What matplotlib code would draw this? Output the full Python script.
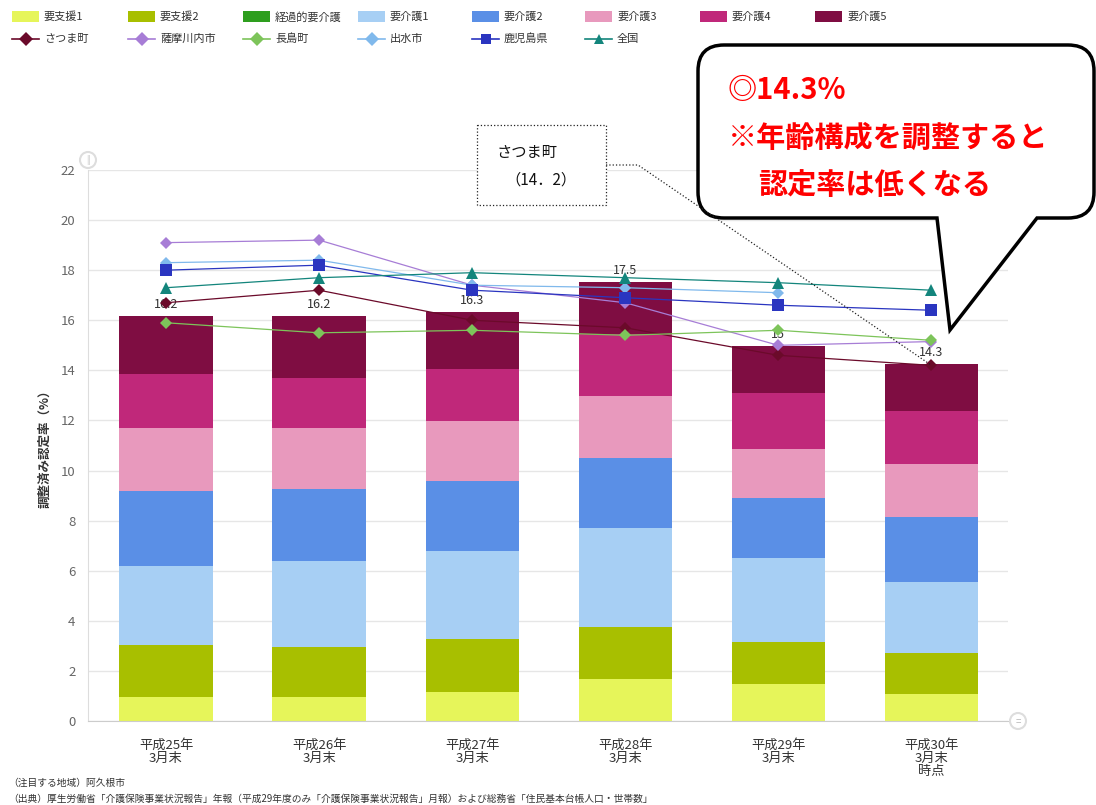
import numpy as np
import matplotlib
matplotlib.use('Agg')
import matplotlib.pyplot as plt
from matplotlib.path import Path
from matplotlib.patches import PathPatch, Rectangle, Circle
from matplotlib.lines import Line2D
from matplotlib.transforms import Affine2D

plt.rcParams['font.family'] = ['Noto Sans CJK JP', 'DejaVu Sans']

W, H = 1096, 805

years = ['平成25年\n3月末', '平成26年\n3月末', '平成27年\n3月末',
         '平成28年\n3月末', '平成29年\n3月末', '平成30年\n3月末\n時点']

# 認定率の内訳 (%)
shien1 = [0.97, 0.97, 1.16, 1.68, 1.48, 1.08]
shien2 = [2.06, 2.00, 2.10, 2.09, 1.69, 1.62]
keika = [0.0, 0.0, 0.0, 0.0, 0.0, 0.0]
kaigo1 = [3.16, 3.42, 3.53, 3.92, 3.32, 2.86]
kaigo2 = [3.00, 2.87, 2.79, 2.80, 2.40, 2.60]
kaigo3 = [2.49, 2.42, 2.41, 2.48, 1.99, 2.12]
kaigo4 = [2.19, 2.00, 2.06, 2.50, 2.20, 2.11]
kaigo5 = [2.30, 2.48, 2.29, 2.05, 1.89, 1.87]

# 比較地域の認定率 (%)
satsuma = [16.7, 17.2, 16.0, 15.7, 14.6, 14.2]
sendai = [19.1, 19.2, 17.4, 16.7, 15.0, 15.15]
nagashima = [15.9, 15.5, 15.6, 15.4, 15.6, 15.2]
izumi = [18.3, 18.4, 17.4, 17.3, 17.1, np.nan]
kagoshima = [18.0, 18.2, 17.2, 16.9, 16.6, 16.4]
zenkoku = [17.3, 17.7, 17.9, 17.7, 17.5, 17.2]

bar_names = ['要支援1', '要支援2', '経過的要介護', '要介護1', '要介護2', '要介護3', '要介護4', '要介護5']
bar_data = [shien1, shien2, keika, kaigo1, kaigo2, kaigo3, kaigo4, kaigo5]
bar_colors = ['#e6f55a', '#a8bf00', '#2e9e1e', '#a7cff4', '#5a8fe6', '#e899bd', '#c0287a', '#7f0d42']

line_names = ['さつま町', '薩摩川内市', '長島町', '出水市', '鹿児島県', '全国']
line_data = [satsuma, sendai, nagashima, izumi, kagoshima, zenkoku]
line_colors = ['#6b0a2a', '#a77dd6', '#7dc45a', '#80b9ec', '#2a35c0', '#13857c']
line_markers = ['D', 'D', 'D', 'D', 's', '^']
marker_sizes = [6.5, 6.5, 6.5, 6.5, 8, 8.5]

fig = plt.figure(figsize=(W / 100, H / 100), dpi=100)
# pixel coords, origin top-left
px = Affine2D().scale(1 / W, -1 / H).translate(0, 1) + fig.transFigure

left, right, top, bottom = 88, 1008, 170, 721
ax = fig.add_axes([left / W, 1 - bottom / H, (right - left) / W, (bottom - top) / H])

x = np.arange(len(years))
base = np.zeros(len(years))
for vals, c in zip(bar_data, bar_colors):
    ax.bar(x, vals, width=0.61, bottom=base, color=c, linewidth=0, zorder=2)
    base = base + np.array(vals)

for xi, total in zip(x, base):
    ax.text(xi, total + 0.2, f'{round(total, 1):g}', ha='center', va='bottom',
            fontsize=9, color='#333333', zorder=3)

for vals, c, m, ms in zip(line_data, line_colors, line_markers, marker_sizes):
    ax.plot(x, vals, color=c, lw=0.9, marker=m, markersize=ms,
            markeredgewidth=0, zorder=4)

ax.set_xlim(-0.51, 5.50)
ax.set_ylim(0, 22)
ax.set_yticks(np.arange(0, 23, 2))
ax.yaxis.grid(True, color='#e6e6e6', lw=1)
ax.set_axisbelow(True)
ax.set_xticks(x)
ax.set_xticklabels(years, fontsize=9.5, color='#333333', linespacing=1.0)
ax.tick_params(axis='x', length=0, pad=13)
ax.tick_params(axis='y', length=0, pad=9, labelsize=9.5, labelcolor='#666666')
for s in ['top', 'right']:
    ax.spines[s].set_visible(False)
ax.spines['left'].set_color('#dddddd')
ax.spines['bottom'].set_color('#cccccc')
ax.set_ylabel('調整済み認定率（%）', fontsize=9, color='#333333', fontweight='bold')
ax.yaxis.set_label_coords(-0.04, 0.5)

# scroll handles
fig.add_artist(Circle((88, 160), 8, transform=px, facecolor='white', edgecolor='#dddddd', lw=1.5))
fig.text(88, 160, '||', transform=px, fontsize=6, color='#bbbbbb', ha='center', va='center')
fig.add_artist(Circle((1018, 721), 8, transform=px, facecolor='white', edgecolor='#dddddd', lw=1.5))
fig.text(1018, 721, '=', transform=px, fontsize=7, color='#bbbbbb', ha='center', va='center')

# legend, two rows
col_x = [12, 128, 243, 358, 472, 585, 700, 815]
for i, (name, c) in enumerate(zip(bar_names, bar_colors)):
    fig.add_artist(Rectangle((col_x[i], 11), 27, 11, transform=px, facecolor=c, lw=0))
    fig.text(col_x[i] + 32, 17, name, transform=px, fontsize=8, color='#333333', va='center')
for i, (name, c, m) in enumerate(zip(line_names, line_colors, line_markers)):
    fig.add_artist(Line2D([col_x[i], col_x[i] + 27], [39, 39], transform=px, color=c, lw=1.2))
    fig.add_artist(Line2D([col_x[i] + 13.5], [39], transform=px, color=c, marker=m,
                          markersize=7, markeredgewidth=0))
    fig.text(col_x[i] + 32, 39, name, transform=px, fontsize=8, color='#333333', va='center')

# speech bubble
l, r, t, b, rad = 698, 1094, 45, 218, 26
verts = [(l + rad, t), (r - rad, t), (r, t), (r, t + rad), (r, b - rad), (r, b), (r - rad, b),
         (1037, b), (950, 330), (937, b), (l + rad, b), (l, b), (l, b - rad),
         (l, t + rad), (l, t), (l + rad, t), (l + rad, t)]
codes = [Path.MOVETO, Path.LINETO, Path.CURVE3, Path.CURVE3, Path.LINETO, Path.CURVE3, Path.CURVE3,
         Path.LINETO, Path.LINETO, Path.LINETO, Path.LINETO, Path.CURVE3, Path.CURVE3,
         Path.LINETO, Path.CURVE3, Path.CURVE3, Path.CLOSEPOLY]
fig.add_artist(PathPatch(Path(verts, codes), transform=px, facecolor='white',
                         edgecolor='black', lw=2.5, zorder=5))
fig.text(728, 90, '◎14.3%', transform=px, fontsize=21, color='#ff0000', fontweight='bold',
         va='center', zorder=6)
fig.text(728, 138, '※年齢構成を調整すると', transform=px, fontsize=21, color='#ff0000',
         fontweight='bold', va='center', zorder=6)
fig.text(758, 185, '認定率は低くなる', transform=px, fontsize=21, color='#ff0000',
         fontweight='bold', va='center', zorder=6)

# さつま町 annotation with dotted leader
fig.add_artist(Rectangle((477, 125), 129, 80, transform=px, facecolor='white',
                         edgecolor='#222222', lw=0.9, linestyle=':', zorder=5))
fig.text(527, 153, 'さつま町', transform=px, fontsize=11, color='#111111', ha='center',
         va='center', zorder=6)
fig.text(541, 180, '（14．2）', transform=px, fontsize=11, color='#111111', ha='center',
         va='center', zorder=6)
dx, dy = ax.transData.transform((x[-1], satsuma[-1]))
fig.add_artist(Line2D([606, 638, dx], [165, 165, H - dy], transform=px, color='#222222',
                      lw=0.9, linestyle=':', zorder=5))

fig.text(8, 783, '（注目する地域）阿久根市', transform=px, fontsize=7, color='#333333', va='center')
fig.text(8, 799, '（出典）厚生労働省「介護保険事業状況報告」年報（平成29年度のみ「介護保険事業状況報告」月報）'
         'および総務省「住民基本台帳人口・世帯数」', transform=px, fontsize=7, color='#333333', va='center')

fig.savefig('out.png', dpi=100)
